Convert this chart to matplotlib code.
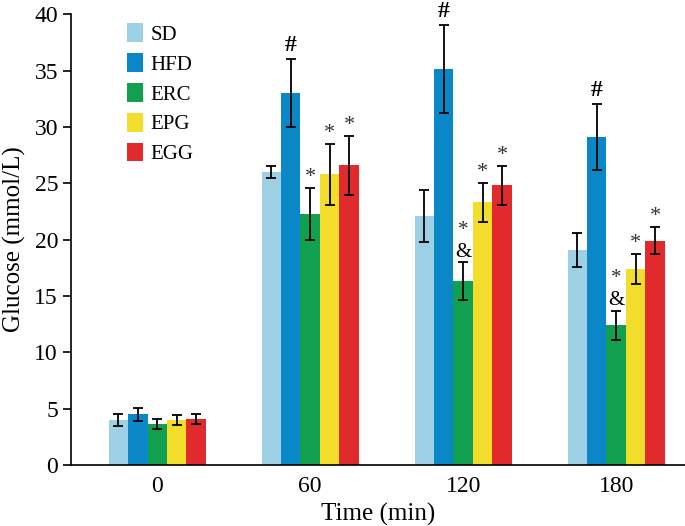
import matplotlib
matplotlib.use("Agg")
import matplotlib.pyplot as plt
import numpy as np

plt.rcParams['font.family'] = 'serif'
plt.rcParams['font.serif'] = ['Liberation Serif', 'DejaVu Serif']

time_labels = ["0", "60", "120", "180"]
groups = ["SD", "HFD", "ERC", "EPG", "EGG"]
colors = ["#9dcfe5", "#0a87c6", "#11a04f", "#f2de2a", "#e02a2b"]

sd_vals = [4.0, 26.0, 22.1, 19.1]
sd_err = [0.5, 0.5, 2.3, 1.5]
hfd_vals = [4.5, 33.0, 35.1, 29.1]
hfd_err = [0.6, 3.0, 3.9, 2.9]
erc_vals = [3.6, 22.3, 16.3, 12.4]
erc_err = [0.45, 2.3, 1.7, 1.3]
epg_vals = [4.0, 25.8, 23.3, 17.4]
epg_err = [0.45, 2.7, 1.7, 1.3]
egg_vals = [4.05, 26.6, 24.8, 19.9]
egg_err = [0.45, 2.6, 1.75, 1.2]

hfd_marks = ["", "#", "#", "#"]
erc_marks = ["", "*", "*&", "*&"]
epg_marks = ["", "*", "*", "*"]
egg_marks = ["", "*", "*", "*"]
sd_marks = ["", "", "", ""]

vals = [sd_vals, hfd_vals, erc_vals, epg_vals, egg_vals]
errs = [sd_err, hfd_err, erc_err, epg_err, egg_err]
marks = [sd_marks, hfd_marks, erc_marks, epg_marks, egg_marks]

fig = plt.figure(figsize=(6.85, 5.26), dpi=100)
ax = fig.add_axes([0.104, 0.116, 0.896, 0.857])

x = np.arange(len(time_labels))
w = 0.127
for i, g in enumerate(groups):
    pos = x + (i - 2) * w
    ax.bar(pos, vals[i], width=w, color=colors[i], label=g, zorder=2)
    ax.errorbar(pos, vals[i], yerr=errs[i], fmt='none', ecolor='black',
                elinewidth=1.3, capsize=3.8, capthick=1.3, zorder=3)
    for j in range(len(x)):
        m = marks[i][j]
        if not m:
            continue
        top = vals[i][j] + errs[i][j]
        if m == "#":
            ax.text(pos[j], top + 0.3, m, ha='center', va='bottom',
                    fontsize=17, fontweight='bold')
        elif "&" in m:
            ax.text(pos[j], top + 0.05, "&", ha='center', va='bottom',
                    fontsize=15)
            ax.text(pos[j], top + 2.0, "*", ha='center', va='bottom',
                    fontsize=15, color='#333333')
        else:
            ax.text(pos[j], top + 0.1, m, ha='center', va='bottom',
                    fontsize=16, color='#333333')

ax.set_xlim(-0.562, 3.45)
ax.set_ylim(0, 40)
ax.set_yticks(np.arange(0, 41, 5))
ax.set_xticks(x)
ax.set_xticklabels(time_labels)
ax.tick_params(axis='x', length=0, labelsize=17, pad=8)
ax.tick_params(axis='y', length=6, width=1.2, labelsize=17, direction='out')
for s in ['top', 'right']:
    ax.spines[s].set_visible(False)
ax.spines['left'].set_linewidth(1.2)
ax.spines['bottom'].set_linewidth(1.2)
ax.set_xlabel("Time (min)", fontsize=18, labelpad=4)
ax.set_ylabel("Glucose (mmol/L)", fontsize=18, labelpad=6)

leg = ax.legend(loc='upper left', bbox_to_anchor=(0.06, 1.021), frameon=False,
                fontsize=15, handlelength=0.8, handleheight=1.0,
                labelspacing=0.4, handletextpad=0.35)

fig.savefig("out.png", dpi=100)
